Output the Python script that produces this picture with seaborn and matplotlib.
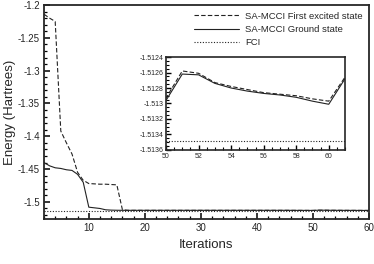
# SA-MCCI convergence vs FCI
import matplotlib
matplotlib.use("Agg")
import matplotlib.pyplot as plt
import seaborn as sns
import pandas as pd
from matplotlib.ticker import MultipleLocator, FuncFormatter

# Main panel data (iterations 2..16 then converged)
iters = [2, 3, 4, 5, 6, 7, 8, 9, 10, 11, 12, 13, 14, 15, 16, 17, 18, 20, 25, 30, 35, 40, 45, 50,
         51, 52, 53, 54, 55, 56, 57, 58, 59, 60, 61]
excited = [-1.214, -1.220, -1.225, -1.392, -1.410, -1.427, -1.455, -1.467, -1.472, -1.4725,
           -1.473, -1.473, -1.4735, -1.474, -1.512, -1.5128, -1.5128, -1.5128, -1.5128, -1.5128,
           -1.5128, -1.5128, -1.5128, -1.51293,
           -1.51258, -1.51261, -1.51273, -1.51278, -1.51282, -1.51286, -1.51288, -1.51290,
           -1.51294, -1.51297, -1.51266]
ground = [-1.440, -1.445, -1.448, -1.449, -1.451, -1.452, -1.458, -1.470, -1.508, -1.509,
          -1.510, -1.512, -1.5125, -1.5127, -1.5128, -1.5128, -1.5128, -1.5128, -1.5128, -1.5128,
          -1.5128, -1.5128, -1.5128, -1.51296,
          -1.51262, -1.51263, -1.51274, -1.51280, -1.51284, -1.51287, -1.51289, -1.51292,
          -1.51297, -1.51301, -1.51268]
fci_energy = -1.51349

df = pd.DataFrame({"iter": iters, "excited": excited, "ground": ground})
df["fci"] = fci_energy

sns.set_style("ticks")
plt.rcParams["font.family"] = ["Liberation Sans", "DejaVu Sans"]

fig = plt.figure(figsize=(3.74, 2.64), dpi=100)
ax = fig.add_axes([0.1176, 0.1705, 0.869, 0.8105])

sns.lineplot(data=df, x="iter", y="excited", ax=ax, color="#222222", lw=0.8,
             linestyle=(0, (4, 2)), label="SA-MCCI First excited state")
sns.lineplot(data=df, x="iter", y="ground", ax=ax, color="#222222", lw=0.8,
             linestyle="-", label="SA-MCCI Ground state")
sns.lineplot(data=df, x="iter", y="fci", ax=ax, color="#222222", lw=0.8,
             linestyle=(0, (1, 1.5)), label="FCI")

fmt = FuncFormatter(lambda v, p: "%g" % round(v, 6))

ax.set_xlim(2, 60)
ax.set_ylim(-1.526, -1.2)
ax.xaxis.set_major_locator(MultipleLocator(10))
ax.xaxis.set_minor_locator(MultipleLocator(2))
ax.yaxis.set_major_locator(MultipleLocator(0.05))
ax.yaxis.set_minor_locator(MultipleLocator(0.01))
ax.yaxis.set_major_formatter(fmt)
ax.tick_params(which="both", direction="in", top=False, right=False, labelsize=7, pad=3,
               color="black")
ax.tick_params(which="major", length=4.5, width=1.1)
ax.tick_params(which="minor", length=2.5, width=0.9)
for s in ax.spines.values():
    s.set_linewidth(1.3)
ax.set_xlabel("Iterations", fontsize=9.5, labelpad=4)
ax.set_ylabel("Energy (Hartrees)", fontsize=9.5, labelpad=1)

ax.legend(loc="upper right", frameon=False, fontsize=6.8, handlelength=4.8,
          handletextpad=0.6, labelspacing=0.45, borderaxespad=0.3)

# Inset zoom on iterations 50-61
ins = fig.add_axes([0.4439, 0.432, 0.4786, 0.352])
sns.lineplot(data=df, x="iter", y="excited", ax=ins, color="#222222", lw=0.8,
             linestyle=(0, (4, 2)), legend=False)
sns.lineplot(data=df, x="iter", y="ground", ax=ins, color="#222222", lw=0.8,
             linestyle="-", legend=False)
sns.lineplot(data=df, x="iter", y="fci", ax=ins, color="#222222", lw=0.8,
             linestyle=(0, (1, 1.5)), legend=False)
ins.set_xlim(50, 61)
ins.set_ylim(-1.5136, -1.5124)
ins.xaxis.set_major_locator(MultipleLocator(2))
ins.xaxis.set_minor_locator(MultipleLocator(0.5))
ins.yaxis.set_major_locator(MultipleLocator(0.0002))
ins.yaxis.set_minor_locator(MultipleLocator(0.00005))
ins.yaxis.set_major_formatter(fmt)
ins.tick_params(which="both", direction="in", top=False, right=False, labelsize=5, pad=2,
                color="black")
ins.tick_params(which="major", length=3.5, width=1)
ins.tick_params(which="minor", length=2, width=0.8)
for s in ins.spines.values():
    s.set_linewidth(1.2)
ins.set_xlabel("")
ins.set_ylabel("")

fig.savefig("out.png", dpi=100)
